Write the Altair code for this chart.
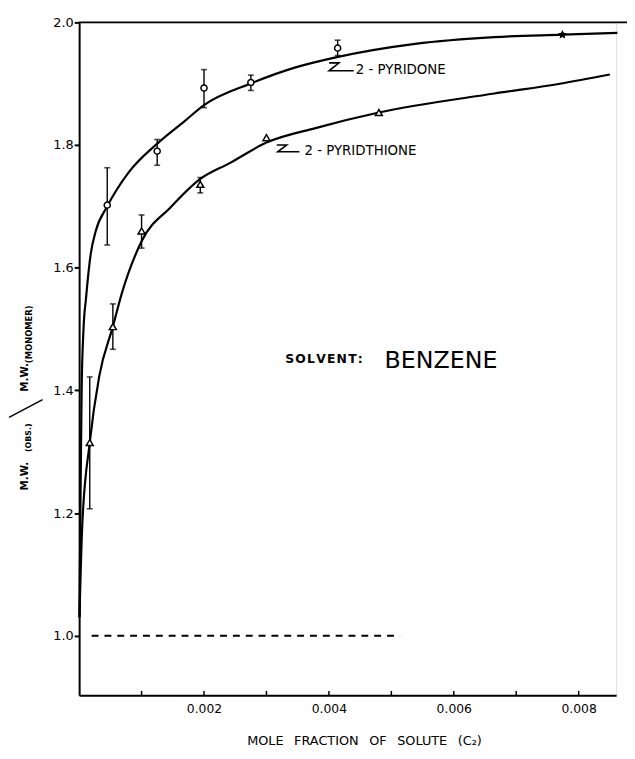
import altair as alt
import pandas as pd

# ---------------- data ----------------
pyridone_x = [0.00045, 0.00125, 0.00200, 0.00275, 0.00414]
pyridone_y = [1.702, 1.790, 1.893, 1.902, 1.958]
pyridone_lo = [1.637, 1.767, 1.861, 1.889, 1.946]
pyridone_hi = [1.763, 1.809, 1.923, 1.914, 1.971]
pyridone_star_x = [0.00774]
pyridone_star_y = [1.980]

thione_x = [0.00017, 0.00054, 0.00100, 0.00194, 0.00300, 0.00480]
thione_y = [1.315, 1.504, 1.660, 1.736, 1.812, 1.853]
thione_err_x = [0.00017, 0.00054, 0.00100, 0.00194]
thione_lo = [1.207, 1.467, 1.632, 1.722]
thione_hi = [1.422, 1.541, 1.686, 1.747]

pyridone_curve_x = [0.000005, 0.00002, 0.00004, 0.00007, 0.00011, 0.000185, 0.000264,
                    0.00045, 0.00079, 0.00127, 0.00169, 0.00200, 0.00274, 0.00348,
                    0.00411, 0.00538, 0.00665, 0.00774, 0.00862]
pyridone_curve_y = [1.03, 1.20, 1.40, 1.50, 1.55, 1.622, 1.659,
                    1.700, 1.755, 1.804, 1.839, 1.865, 1.900, 1.927,
                    1.943, 1.965, 1.976, 1.980, 1.983]

thione_curve_x = [0.000005, 0.00005, 0.00017, 0.00032, 0.00054, 0.00068, 0.00100,
                  0.00147, 0.00193, 0.00242, 0.00300, 0.00380, 0.00480, 0.00665,
                  0.00770, 0.00850]
thione_curve_y = [1.03, 1.18, 1.315, 1.422, 1.504, 1.557, 1.643,
                  1.699, 1.744, 1.771, 1.804, 1.828, 1.853, 1.884,
                  1.900, 1.915]

x_tick_values = [0.001, 0.002, 0.003, 0.004, 0.005, 0.006, 0.007, 0.008]
x_label_values = [0.002, 0.004, 0.006, 0.008]
y_label_values = [1.0, 1.2, 1.4, 1.6, 1.8, 2.0]

# leader "Z" marks next to the curve labels
z_pyridone_x = [0.004003, 0.004161, 0.004003, 0.004399]
z_pyridone_y = [1.934, 1.934, 1.921, 1.921]
z_thione_x = [0.003165, 0.003323, 0.003180, 0.003528]
z_thione_y = [1.800, 1.800, 1.789, 1.789]

FONT = "DejaVu Sans"
X_DOM = [0.0, 0.0086]
Y_DOM = [0.903, 2.0]
STAR = ("M0,-1L0.29,-0.4L0.95,-0.31L0.48,0.15L0.59,0.81L0,0.5L-0.59,0.81"
        "L-0.48,0.15L-0.95,-0.31L-0.29,-0.4Z")
EN = "\u2002"
HAIR = "\u200a"

xs = alt.Scale(domain=X_DOM, nice=False, zero=False)
ys = alt.Scale(domain=Y_DOM, nice=False, zero=False)

curves = pd.concat([
    pd.DataFrame({"x": pyridone_curve_x, "y": pyridone_curve_y, "s": "pyridone"}),
    pd.DataFrame({"x": thione_curve_x, "y": thione_curve_y, "s": "thione"}),
])

base_x = alt.X("x:Q", scale=xs, axis=alt.Axis(
    values=x_label_values, format=".3f", ticks=False, tickSize=0, grid=False,
    title=None, labelFontSize=12.5, labelPadding=7, labelFont=FONT,
    domainColor="black", domainWidth=2, labelColor="black"))
base_y = alt.Y("y:Q", scale=ys, axis=alt.Axis(
    values=y_label_values, format=".1f", ticks=True, tickSize=5, tickWidth=2,
    tickColor="black", grid=False, title=None, labelFontSize=13, labelPadding=1,
    labelFont=FONT, domainColor="black", domainWidth=2, labelColor="black"))

curve_layer = alt.Chart(curves).mark_line(
    color="black", strokeWidth=2.2, interpolate="monotone"
).encode(x=base_x, y=base_y, detail="s:N")

err = pd.concat([
    pd.DataFrame({"x": pyridone_x, "lo": pyridone_lo, "hi": pyridone_hi}),
    pd.DataFrame({"x": thione_err_x, "lo": thione_lo, "hi": thione_hi}),
])
err_rule = alt.Chart(err).mark_rule(color="black", strokeWidth=1.4).encode(
    x=alt.X("x:Q", scale=xs), y=alt.Y("lo:Q", scale=ys), y2="hi:Q")
cap_lo = alt.Chart(err).mark_tick(orient="horizontal", color="black", size=6, thickness=1.6).encode(
    x=alt.X("x:Q", scale=xs), y=alt.Y("lo:Q", scale=ys))
cap_hi = alt.Chart(err).mark_tick(orient="horizontal", color="black", size=6, thickness=1.6).encode(
    x=alt.X("x:Q", scale=xs), y=alt.Y("hi:Q", scale=ys))

circ = alt.Chart(pd.DataFrame({"x": pyridone_x, "y": pyridone_y})).mark_point(
    shape="circle", filled=True, fill="white", stroke="black", strokeWidth=1.5,
    size=38, opacity=1).encode(x=alt.X("x:Q", scale=xs), y=alt.Y("y:Q", scale=ys))
tri = alt.Chart(pd.DataFrame({"x": thione_x, "y": thione_y})).mark_point(
    shape="triangle-up", filled=True, fill="white", stroke="black", strokeWidth=1.5,
    size=50, opacity=1).encode(x=alt.X("x:Q", scale=xs), y=alt.Y("y:Q", scale=ys))
star = alt.Chart(pd.DataFrame({"x": pyridone_star_x, "y": pyridone_star_y})).mark_point(
    shape=STAR, filled=True, color="black", size=90, opacity=1).encode(
    x=alt.X("x:Q", scale=xs), y=alt.Y("y:Q", scale=ys))

ticks = alt.Chart(pd.DataFrame({"x": x_tick_values})).mark_rule(color="black", strokeWidth=1.5).encode(
    x=alt.X("x:Q", scale=xs), y=alt.datum(0.903), y2=alt.datum(0.910))

one = pd.DataFrame({"k": [0]})
dashed = alt.Chart(one).mark_rule(color="black", strokeWidth=2, strokeDash=[7, 6]).encode(
    x=alt.datum(0.0002), x2=alt.datum(0.00514), y=alt.datum(1.0))
top = alt.Chart(one).mark_rule(color="black", strokeWidth=2).encode(
    x=alt.datum(0.0), x2=alt.datum(0.00878), y=alt.datum(2.0))

z1 = alt.Chart(pd.DataFrame({"x": z_pyridone_x, "y": z_pyridone_y, "i": range(4)})).mark_line(
    color="black", strokeWidth=1.6).encode(x=alt.X("x:Q", scale=xs), y=alt.Y("y:Q", scale=ys), order="i:Q")
z2 = alt.Chart(pd.DataFrame({"x": z_thione_x, "y": z_thione_y, "i": range(4)})).mark_line(
    color="black", strokeWidth=1.6).encode(x=alt.X("x:Q", scale=xs), y=alt.Y("y:Q", scale=ys), order="i:Q")


def txt(s, x, y, **kw):
    return alt.Chart(pd.DataFrame({"t": [s]})).mark_text(font=FONT, color="black", **kw).encode(
        x=alt.datum(x), y=alt.datum(y), text="t:N")


x_title = (EN + " ").join(["MOLE", "FRACTION", "OF", "SOLUTE", "(C\u2082)"])
solvent = HAIR.join("SOLVENT:")

labels = [
    txt("2 - PYRIDONE", 0.00443, 1.9216, align="left", baseline="middle", fontSize=13.5),
    txt("2 - PYRIDTHIONE", 0.003608, 1.791, align="left", baseline="middle", fontSize=13.5),
    txt(solvent, 0.00330, 1.4444, align="left", baseline="alphabetic", fontSize=12.5, fontWeight="bold"),
    txt("BENZENE", 0.00670, 1.4364, align="right", baseline="alphabetic", fontSize=24),
    txt(x_title, 0.00457, 0.829, align="center", baseline="middle", fontSize=13),
    # rotated y title pieces
    txt("M.W.", -0.000870, 1.2367, align="left", baseline="middle", angle=270, fontSize=10.5, fontWeight="bold"),
    txt("(OBS.)", -0.000810, 1.2995, align="left", baseline="middle", angle=270, fontSize=8, fontWeight="bold"),
    txt("M.W.", -0.000870, 1.3977, align="left", baseline="middle", angle=270, fontSize=10.5, fontWeight="bold"),
    txt("(MONOMER)", -0.000810, 1.4444, align="left", baseline="middle", angle=270, fontSize=8.5, fontWeight="bold"),
]
slash = alt.Chart(one).mark_rule(color="black", strokeWidth=1.5).encode(
    x=alt.datum(-0.001123), y=alt.datum(1.356), x2=alt.datum(-0.000585), y2=alt.datum(1.385))

chart = alt.layer(
    curve_layer, err_rule, cap_lo, cap_hi, circ, tri, star, ticks, dashed, top, z1, z2, slash, *labels
).properties(
    width=543.5, height=681,
    autosize=alt.AutoSizeParams(type="none"),
    padding={"left": 72, "top": 10, "right": 11, "bottom": 60},
).configure_view(stroke=None).configure(font=FONT)

chart.save("out.html", embed_options={"renderer": "svg", "actions": False})
